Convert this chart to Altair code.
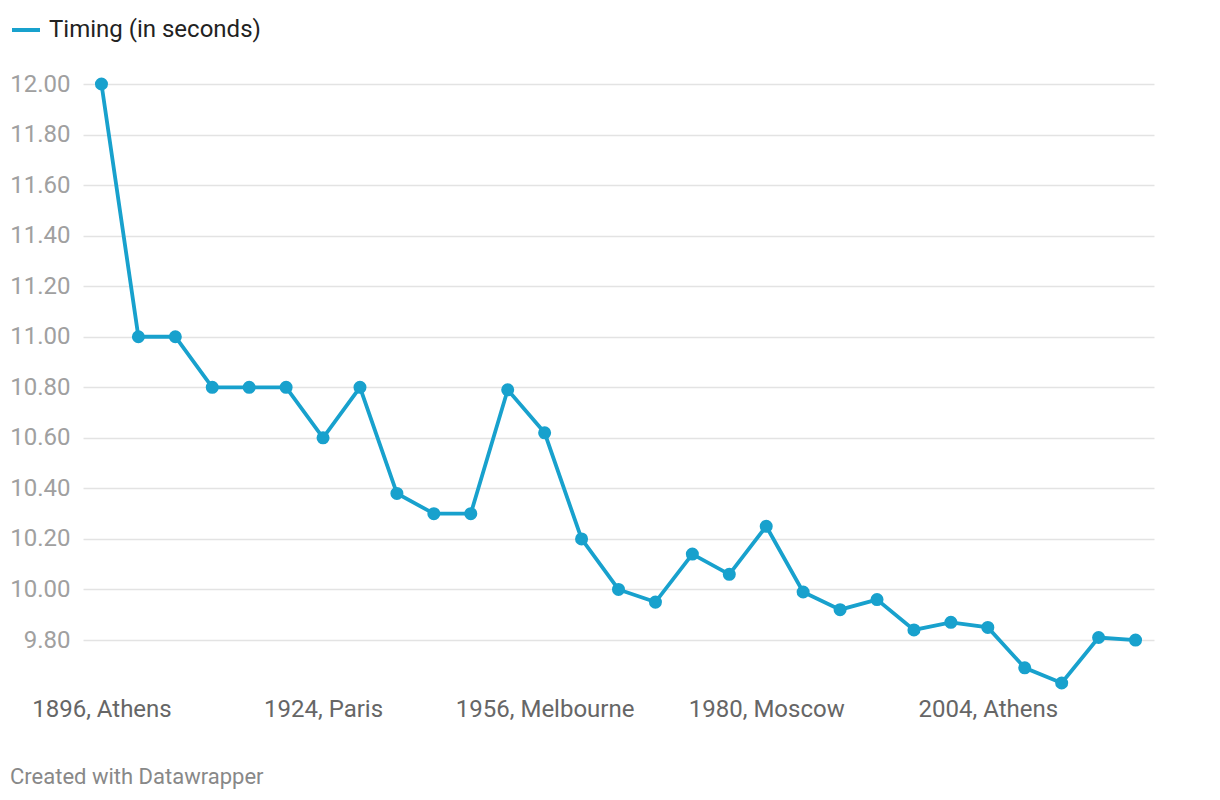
import altair as alt
import pandas as pd

years = [1896, 1900, 1904, 1908, 1912, 1920, 1924, 1928, 1932, 1936, 1948, 1952,
         1956, 1960, 1964, 1968, 1972, 1976, 1980, 1984, 1988, 1992, 1996, 2000,
         2004, 2008, 2012, 2016, 2020]
cities = ["Athens", "Paris", "St. Louis", "London", "Stockholm", "Antwerp", "Paris",
          "Amsterdam", "Los Angeles", "Berlin", "London", "Helsinki", "Melbourne",
          "Rome", "Tokyo", "Mexico City", "Munich", "Montreal", "Moscow",
          "Los Angeles", "Seoul", "Barcelona", "Atlanta", "Sydney", "Athens",
          "Beijing", "London", "Rio de Janeiro", "Tokyo"]
timings = [12.00, 11.00, 11.00, 10.80, 10.80, 10.80, 10.60, 10.80, 10.38, 10.30,
           10.30, 10.79, 10.62, 10.20, 10.00, 9.95, 10.14, 10.06, 10.25, 9.99,
           9.92, 9.96, 9.84, 9.87, 9.85, 9.69, 9.63, 9.81, 9.80]
shown_labels = ["1896, Athens", "1924, Paris", "1956, Melbourne", "1980, Moscow", "2004, Athens"]
y_ticks = [9.8, 10.0, 10.2, 10.4, 10.6, 10.8, 11.0, 11.2, 11.4, 11.6, 11.8, 12.0]

labels = [f"{y}, {c}" for y, c in zip(years, cities)]
df = pd.DataFrame({"games": labels, "timing": timings, "series": "Timing (in seconds)"})

BLUE = "#18a1cd"
FONT = "Roboto"

x = alt.X("games:N", sort=labels, scale=alt.Scale(type="point", padding=0.5),
          axis=alt.Axis(values=shown_labels, labelAngle=0, ticks=False, tickSize=0,
                        domain=False, grid=False, labelFontSize=24, labelColor="#666666",
                        labelFont=FONT, labelPadding=14, title=None, labelOverlap=False))
y = alt.Y("timing:Q", scale=alt.Scale(domain=[9.63, 12.0], nice=False, zero=False),
          axis=alt.Axis(values=y_ticks, format=".2f", ticks=False, tickSize=0, domain=False,
                        grid=True, gridColor="#e3e3e3", gridWidth=1.5, labelFontSize=24,
                        labelColor="#a0a0a0", labelFont=FONT, labelPadding=13, title=None))

line = alt.Chart(df).mark_line(strokeWidth=3.8).encode(
    x=x, y=y,
    color=alt.Color("series:N", scale=alt.Scale(range=[BLUE]),
                    legend=alt.Legend(title=None, orient="none", legendX=-73, legendY=-70,
                                      symbolType="stroke", symbolStrokeWidth=4,
                                      symbolSize=784, labelFontSize=24, labelColor="#222222",
                                      labelFont=FONT, labelOffset=7, labelLimit=0)),
)
points = alt.Chart(df).mark_circle(size=170, opacity=1, color=BLUE).encode(x=x, y=y)

chart = (line + points).properties(
    width=1071, height=599,
    autosize=alt.AutoSizeParams(type="none"),
    padding={"left": 75, "top": 76, "right": 50, "bottom": 115},
    title=alt.Title("Created with Datawrapper", orient="bottom", anchor="start",
                    frame="group", dx=-73, offset=46, fontSize=22, font=FONT,
                    fontWeight="normal", color="#888888"),
).configure_view(stroke=None)

chart.save("out.html", embed_options={"renderer": "svg", "actions": False})
